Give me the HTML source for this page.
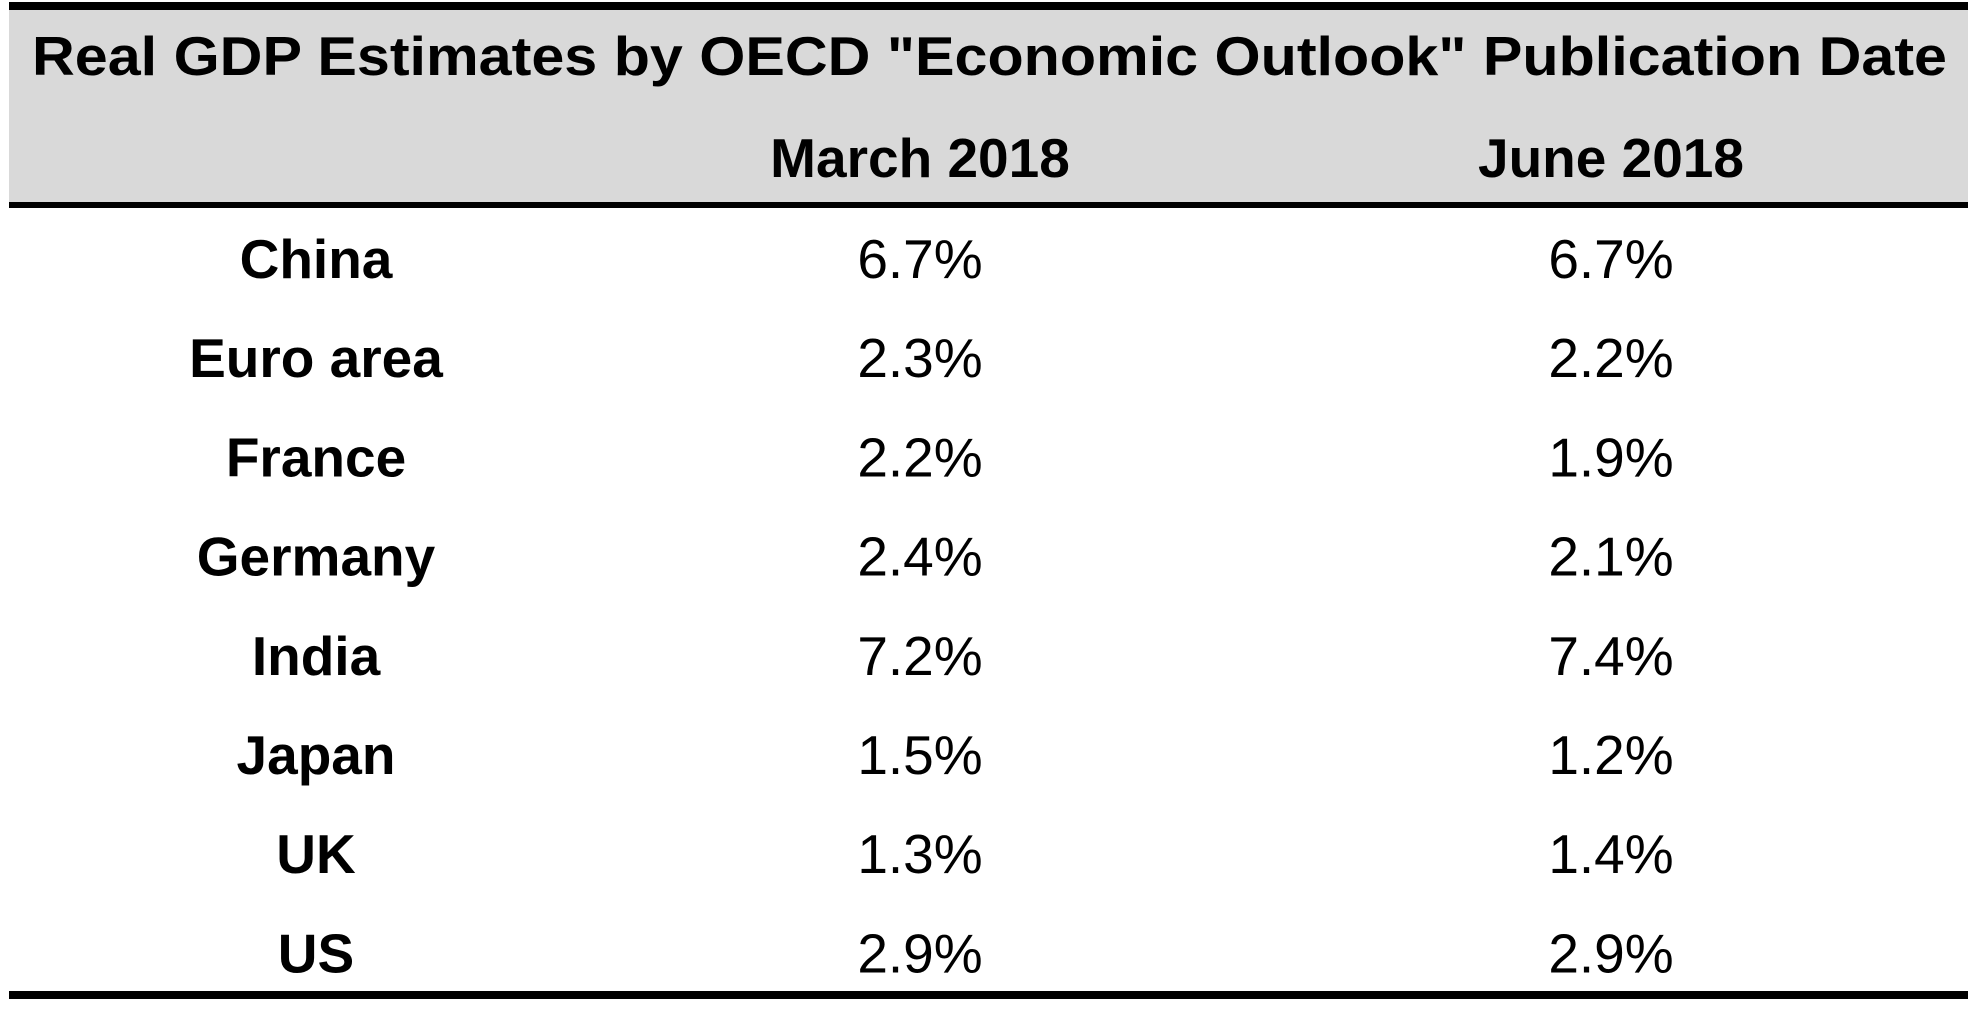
<!DOCTYPE html>
<html><head><meta charset="utf-8"><style>
html,body{margin:0;padding:0;background:#fff;width:1973px;height:1012px;overflow:hidden}
svg{display:block}
text{font-family:"Liberation Sans",Arial,sans-serif;fill:#000}
</style></head><body>
<svg width="1973" height="1012" viewBox="0 0 1973 1012">
<rect x="9" y="8" width="1959" height="196" fill="#d9d9d9"/>
<rect x="9" y="2" width="1959" height="8" fill="#000"/>
<rect x="9" y="202" width="1959" height="6" fill="#000"/>
<rect x="9" y="991" width="1959" height="8" fill="#000"/>
<text x="32" y="75" font-size="55" font-weight="bold" textLength="1915" lengthAdjust="spacingAndGlyphs">Real GDP Estimates by OECD "Economic Outlook" Publication Date</text>
<text x="920" y="177" font-size="55" font-weight="bold" text-anchor="middle">March 2018</text>
<text x="1611" y="177" font-size="55" font-weight="bold" text-anchor="middle">June 2018</text>
<g id="rows"></g>
</svg>
<script>
const countries=["China","Euro area","France","Germany","India","Japan","UK","US"];
const march=["6.7%","2.3%","2.2%","2.4%","7.2%","1.5%","1.3%","2.9%"];
const june=["6.7%","2.2%","1.9%","2.1%","7.4%","1.2%","1.4%","2.9%"];
const g=document.getElementById('rows');
const NS="http://www.w3.org/2000/svg";
function rowY(i){return 278+i*99.2;}
function mk(x,y,txt,bold){
  const t=document.createElementNS(NS,'text');
  t.setAttribute('x',x);t.setAttribute('y',y);
  t.setAttribute('font-size','55');
  t.setAttribute('text-anchor','middle');
  if(bold)t.setAttribute('font-weight','bold');
  t.textContent=txt;g.appendChild(t);return t;
}
countries.forEach((c,i)=>{
  const a=mk(316,rowY(i),c,true);
  
  
  const b=mk(920,rowY(i),march[i],false);
  
  
  const d=mk(1611,rowY(i),june[i],false);
  
  
});
</script>
</body></html>
